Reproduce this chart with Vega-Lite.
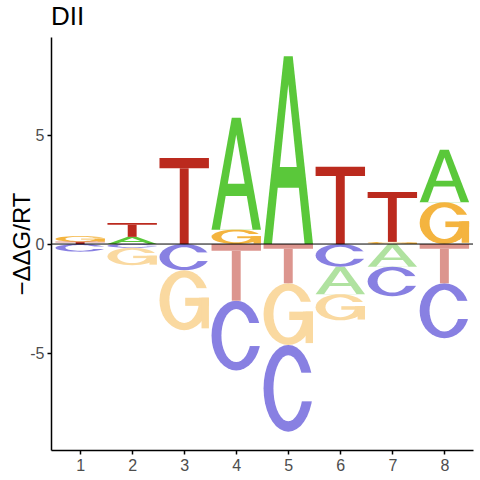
{
  "$schema": "https://vega.github.io/schema/vega-lite/v6.json",
  "width": 422,
  "height": 413,
  "autosize": {"type": "none"},
  "padding": {"left": 51, "top": 37, "right": 7, "bottom": 30},
  "background": "white",
  "title": {"text": "DII", "anchor": "start", "frame": "group", "fontSize": 26, "fontWeight": "normal", "font": "Liberation Sans", "color": "black", "offset": 7},
  "config": {
    "view": {"stroke": null},
    "axis": {"domainColor": "black", "domainWidth": 1.5, "tickColor": "black", "tickWidth": 1.5, "tickSize": 4, "labelColor": "#4D4D4D", "labelFont": "Liberation Sans", "labelFontSize": 16, "titleFont": "Liberation Sans", "titleColor": "black", "titleFontWeight": "normal", "grid": false, "labelPadding": 3}
  },
  "data": {"values": [
    {"pos": 1, "letter": "T", "lo": 0, "hi": 0.1},
    {"pos": 1, "letter": "G", "lo": 0.1, "hi": 0.37},
    {"pos": 1, "letter": "C", "lo": -0.35, "hi": 0},
    {"pos": 2, "letter": "A", "lo": 0, "hi": 0.33},
    {"pos": 2, "letter": "T", "lo": 0.33, "hi": 0.96},
    {"pos": 2, "letter": "C", "lo": -0.17, "hi": 0},
    {"pos": 2, "letter": "G", "lo": -0.97, "hi": -0.17},
    {"pos": 3, "letter": "T", "lo": 0, "hi": 3.95},
    {"pos": 3, "letter": "C", "lo": -1.2, "hi": 0},
    {"pos": 3, "letter": "G", "lo": -3.95, "hi": -1.2},
    {"pos": 4, "letter": "G", "lo": 0, "hi": 0.66},
    {"pos": 4, "letter": "A", "lo": 0.66, "hi": 5.8},
    {"pos": 4, "letter": "T", "lo": -2.6, "hi": 0},
    {"pos": 4, "letter": "C", "lo": -5.8, "hi": -2.6},
    {"pos": 5, "letter": "A", "lo": 0, "hi": 8.62},
    {"pos": 5, "letter": "T", "lo": -1.8, "hi": 0},
    {"pos": 5, "letter": "G", "lo": -4.63, "hi": -1.8},
    {"pos": 5, "letter": "C", "lo": -8.61, "hi": -4.63},
    {"pos": 6, "letter": "T", "lo": 0, "hi": 3.55},
    {"pos": 6, "letter": "C", "lo": -1.04, "hi": 0},
    {"pos": 6, "letter": "A", "lo": -2.3, "hi": -1.04},
    {"pos": 6, "letter": "G", "lo": -3.5, "hi": -2.3},
    {"pos": 7, "letter": "G", "lo": 0, "hi": 0.1},
    {"pos": 7, "letter": "T", "lo": 0.1, "hi": 2.39},
    {"pos": 7, "letter": "A", "lo": -1.04, "hi": 0},
    {"pos": 7, "letter": "C", "lo": -2.39, "hi": -1.04},
    {"pos": 8, "letter": "G", "lo": 0, "hi": 1.92},
    {"pos": 8, "letter": "A", "lo": 1.92, "hi": 4.33},
    {"pos": 8, "letter": "T", "lo": -1.8, "hi": 0},
    {"pos": 8, "letter": "C", "lo": -4.32, "hi": -1.8}
  ]},
  "layer": [
    {
      "transform": [
        {"filter": "datum.letter == 'A'"},
        {"calculate": "datum.pos + datum.letter", "as": "id"},
        {"calculate": "[0, 0.41, 0.59, 1]", "as": "pu"},
        {"calculate": "[0, 1, 1, 0]", "as": "pv"},
        {"flatten": ["pu", "pv"]},
        {"calculate": "datum.pos - 0.475 + datum.pu * 0.95", "as": "gx"},
        {"calculate": "datum.lo + datum.pv * (datum.hi - datum.lo)", "as": "gy"},
        {"calculate": "datum.letter + (datum.hi > 0 ? '+' : '-')", "as": "key"}
      ],
      "mark": {"type": "area", "orient": "vertical", "interpolate": "linear"},
      "encoding": {
        "x": {"field": "gx", "type": "quantitative", "scale": {"domain": [0.44, 8.55], "nice": false, "zero": false}, "axis": {"values": [1, 2, 3, 4, 5, 6, 7, 8], "title": null, "labelFlush": false}},
        "y": {"field": "gy", "type": "quantitative", "stack": null, "scale": {"domain": [-9.45, 9.5], "nice": false, "zero": false}, "axis": {"values": [-5, 0, 5], "title": "−ΔΔG/RT", "titleFontSize": 24, "titlePadding": -5, "labelExpr": "datum.value < 0 ? '-' + abs(datum.value) : '' + datum.value"}},
        "y2": {"field": "lo"},
        "detail": {"field": "id"},
        "color": {"field": "key", "type": "nominal", "legend": null, "scale": {"domain": ["T+", "A+", "G+", "C+", "T-", "A-", "G-", "C-"], "range": ["#BB2A1E", "#5AC83A", "#F4B43F", "#8880E2", "#DC958E", "#B0E2A0", "#FAD9A0", "#8880E2"]}}
      }
    },
    {
      "transform": [
        {"filter": "datum.letter == 'A'"},
        {"calculate": "datum.pos + datum.letter", "as": "id"},
        {"calculate": "[0.17, 0.2865, 0.7135, 0.83]", "as": "pu"},
        {"calculate": "[0, 0.3, 0.3, 0]", "as": "pv"},
        {"flatten": ["pu", "pv"]},
        {"calculate": "datum.pos - 0.475 + datum.pu * 0.95", "as": "gx"},
        {"calculate": "datum.lo + datum.pv * (datum.hi - datum.lo)", "as": "gy"}
      ],
      "mark": {"type": "area", "orient": "vertical", "interpolate": "linear", "color": "white"},
      "encoding": {
        "x": {"field": "gx", "type": "quantitative"},
        "y": {"field": "gy", "type": "quantitative", "stack": null},
        "y2": {"field": "lo"},
        "detail": {"field": "id"}
      }
    },
    {
      "transform": [
        {"filter": "datum.letter == 'A'"},
        {"calculate": "datum.pos + datum.letter", "as": "id"},
        {"calculate": "[0.329, 0.5, 0.671]", "as": "pu"},
        {"calculate": "[0.41, 0.85, 0.41]", "as": "pv"},
        {"flatten": ["pu", "pv"]},
        {"calculate": "datum.pos - 0.475 + datum.pu * 0.95", "as": "gx"},
        {"calculate": "datum.lo + datum.pv * (datum.hi - datum.lo)", "as": "gy"},
        {"calculate": "datum.lo + 0.41 * (datum.hi - datum.lo)", "as": "gb"}
      ],
      "mark": {"type": "area", "orient": "vertical", "interpolate": "linear", "color": "white"},
      "encoding": {
        "x": {"field": "gx", "type": "quantitative"},
        "y": {"field": "gy", "type": "quantitative", "stack": null},
        "y2": {"field": "gb"},
        "detail": {"field": "id"}
      }
    },
    {
      "transform": [
        {"filter": "datum.letter == 'C' || datum.letter == 'G'"},
        {"calculate": "datum.pos + datum.letter", "as": "id"},
        {"calculate": "[0,10,20,30,40,50,60,70,80,90,100,110,120,130,140,150,160,170,180]", "as": "t"},
        {"flatten": ["t"]},
        {"calculate": "datum.pos - 0.475 + (0.5 + 0.5 * cos(datum.t * PI / 180)) * 0.95", "as": "gx"},
        {"calculate": "datum.lo + (0.5 + 0.5 * sin(datum.t * PI / 180)) * (datum.hi - datum.lo)", "as": "gy"},
        {"calculate": "datum.lo + (0.5 - 0.5 * sin(datum.t * PI / 180)) * (datum.hi - datum.lo)", "as": "gb"},
        {"calculate": "datum.letter + (datum.hi > 0 ? '+' : '-')", "as": "key"}
      ],
      "mark": {"type": "area", "orient": "vertical", "interpolate": "linear"},
      "encoding": {
        "x": {"field": "gx", "type": "quantitative"},
        "y": {"field": "gy", "type": "quantitative", "stack": null},
        "y2": {"field": "gb"},
        "detail": {"field": "id"},
        "color": {"field": "key", "type": "nominal", "legend": null}
      }
    },
    {
      "transform": [
        {"filter": "datum.letter == 'C' || datum.letter == 'G'"},
        {"calculate": "datum.pos + datum.letter", "as": "id"},
        {"calculate": "[0,10,20,30,40,50,60,70,80,90,100,110,120,130,140,150,160,170,180]", "as": "t"},
        {"flatten": ["t"]},
        {"calculate": "datum.pos - 0.475 + (0.5 + 0.3 * cos(datum.t * PI / 180)) * 0.95", "as": "gx"},
        {"calculate": "datum.lo + (0.5 + 0.38 * sin(datum.t * PI / 180)) * (datum.hi - datum.lo)", "as": "gy"},
        {"calculate": "datum.lo + (0.5 - 0.38 * sin(datum.t * PI / 180)) * (datum.hi - datum.lo)", "as": "gb"}
      ],
      "mark": {"type": "area", "orient": "vertical", "interpolate": "linear", "color": "white"},
      "encoding": {
        "x": {"field": "gx", "type": "quantitative"},
        "y": {"field": "gy", "type": "quantitative", "stack": null},
        "y2": {"field": "gb"},
        "detail": {"field": "id"}
      }
    },
    {
      "transform": [
        {"filter": "datum.letter == 'C' || datum.letter == 'G'"},
        {"calculate": "datum.pos - 0.475 + 0.72 * 0.95", "as": "gx"},
        {"calculate": "datum.pos - 0.475 + 1.02 * 0.95", "as": "gx2"},
        {"calculate": "datum.lo + (datum.letter == 'C' ? 0.35 : 0.54) * (datum.hi - datum.lo)", "as": "gy"},
        {"calculate": "datum.lo + (datum.letter == 'C' ? 0.68 : 0.7) * (datum.hi - datum.lo)", "as": "gy2"}
      ],
      "mark": {"type": "rect", "color": "white"},
      "encoding": {
        "x": {"field": "gx", "type": "quantitative"},
        "x2": {"field": "gx2"},
        "y": {"field": "gy", "type": "quantitative"},
        "y2": {"field": "gy2"}
      }
    },
    {
      "transform": [
        {"filter": "datum.letter == 'T' || datum.letter == 'G'"},
        {"calculate": "datum.letter == 'T' ? [0, 0.41] : [0.52, 0.85]", "as": "ru0"},
        {"calculate": "datum.letter == 'T' ? [1, 0.59] : [1, 1]", "as": "ru1"},
        {"calculate": "datum.letter == 'T' ? [0.88, 0] : [0.405, 0.03]", "as": "rv0"},
        {"calculate": "datum.letter == 'T' ? [1, 0.88] : [0.54, 0.54]", "as": "rv1"},
        {"flatten": ["ru0", "ru1", "rv0", "rv1"]},
        {"calculate": "datum.pos - 0.475 + datum.ru0 * 0.95", "as": "gx"},
        {"calculate": "datum.pos - 0.475 + datum.ru1 * 0.95", "as": "gx2"},
        {"calculate": "datum.lo + datum.rv0 * (datum.hi - datum.lo)", "as": "gy"},
        {"calculate": "datum.lo + datum.rv1 * (datum.hi - datum.lo)", "as": "gy2"},
        {"calculate": "datum.letter + (datum.hi > 0 ? '+' : '-')", "as": "key"}
      ],
      "mark": {"type": "rect"},
      "encoding": {
        "x": {"field": "gx", "type": "quantitative"},
        "x2": {"field": "gx2"},
        "y": {"field": "gy", "type": "quantitative"},
        "y2": {"field": "gy2"},
        "color": {"field": "key", "type": "nominal", "legend": null}
      }
    },
    {
      "data": {"values": [{"zero": 0}]},
      "mark": {"type": "rule", "color": "black", "strokeWidth": 1},
      "encoding": {
        "y": {"field": "zero", "type": "quantitative"}
      }
    }
  ]
}
